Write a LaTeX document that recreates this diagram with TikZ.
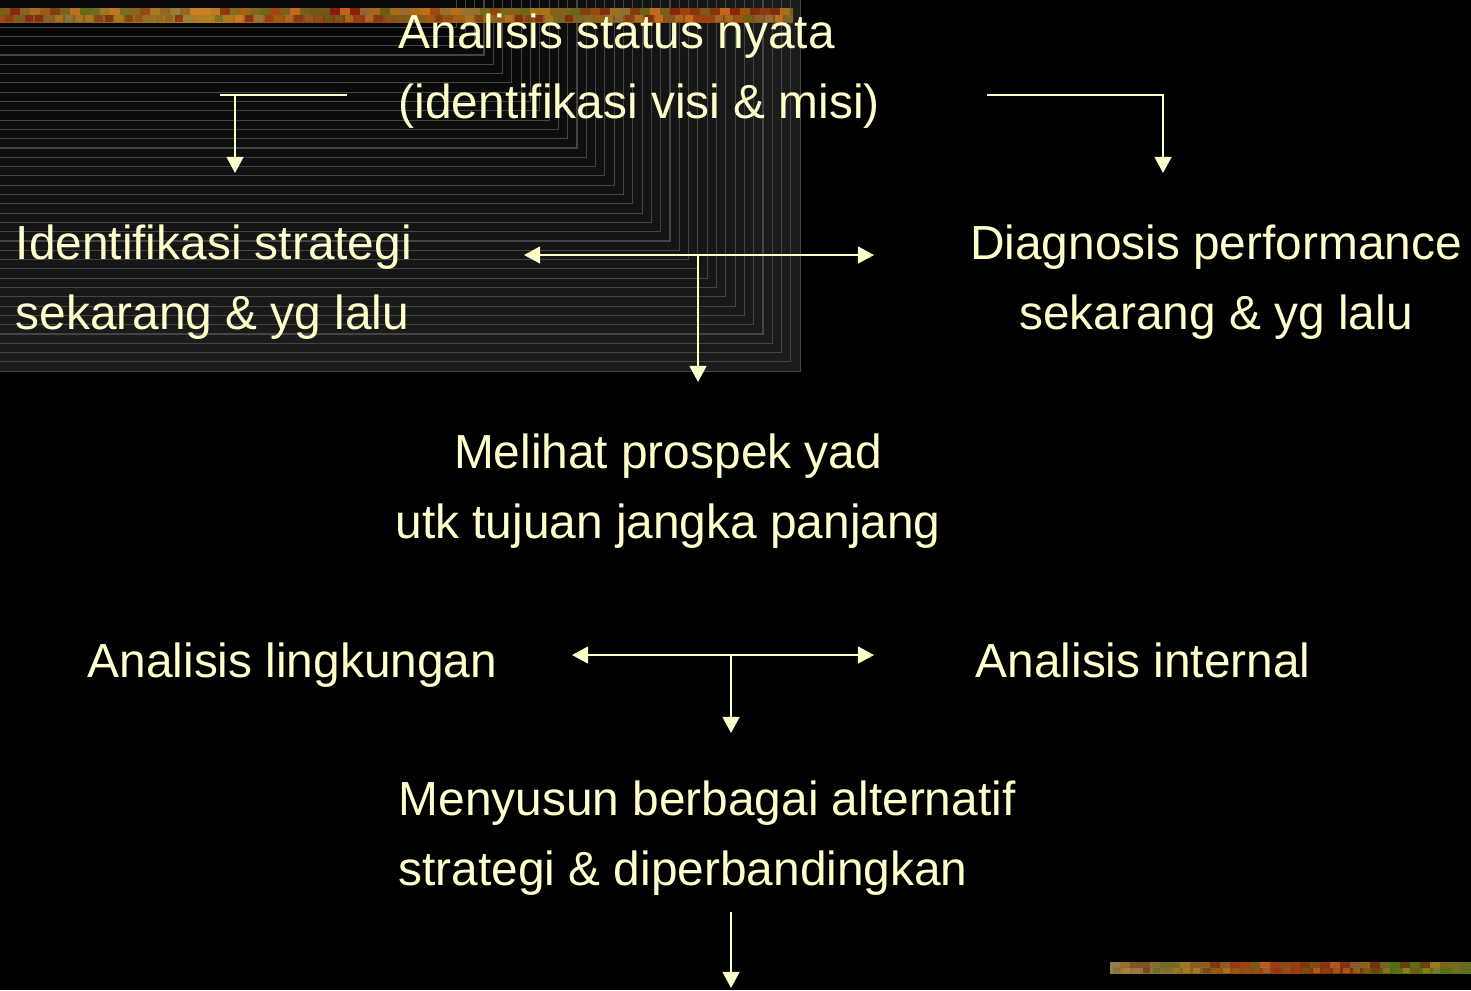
\documentclass[tikz,border=0pt]{standalone}
\usepackage{fontspec}
\setmainfont{Liberation Sans}
\usetikzlibrary{arrows.meta,positioning}

\definecolor{pale}{HTML}{FFFFCC}
\definecolor{stripe}{HTML}{444444}
% colours of the two patterned bars
\definecolor{ba}{HTML}{6A6A20}\definecolor{bb}{HTML}{7A3010}
\definecolor{bc}{HTML}{8A6A30}\definecolor{bd}{HTML}{A04010}
\definecolor{be}{HTML}{806020}\definecolor{bf}{HTML}{B08020}
\definecolor{bg}{HTML}{903010}\definecolor{bh}{HTML}{607020}
\definecolor{bi}{HTML}{C08020}\definecolor{bj}{HTML}{A06010}
\definecolor{bk}{HTML}{908050}\definecolor{bl}{HTML}{801010}
\definecolor{bm}{HTML}{E08020}\definecolor{bn}{HTML}{507010}
\pgfdeclarehorizontalshading{topbar}{100bp}{color(0bp)=(ba); color(8bp)=(bb);
  color(14bp)=(bc); color(22bp)=(bd); color(30bp)=(be); color(38bp)=(bf);
  color(46bp)=(bg); color(54bp)=(bj); color(62bp)=(be); color(70bp)=(bd);
  color(78bp)=(bh); color(86bp)=(bj); color(94bp)=(bi); color(100bp)=(bj)}
\pgfdeclarehorizontalshading{lowbar}{100bp}{color(0bp)=(bi); color(18bp)=(bj);
  color(25bp)=(bk); color(38bp)=(be); color(45bp)=(bd); color(58bp)=(bb);
  color(65bp)=(bn); color(78bp)=(bh); color(82bp)=(bl); color(94bp)=(bm);
  color(100bp)=(bg)}
\pgfmathdeclarerandomlist{barcols}{{ba}{bb}{bc}{bd}{be}{bf}{bg}{bh}{bi}{bj}{bk}{bl}{bm}{bn}}

\begin{document}
\begin{tikzpicture}[x=0.01cm,y=-0.01cm,
    txt/.style={text=pale,inner sep=0pt,font=\fontsize{13.6}{19.9}\selectfont},
    line/.style={draw=pale,line width=0.6pt},
    arr/.style={line,-{Triangle[length=4.6pt,width=4.8pt]}}]
  % background
  \fill[black] (0,0) rectangle (1471,990);
  \useasboundingbox (0,0) rectangle (1471,990);
  \foreach \k in {34,33,...,-3} {
    \pgfmathsetmacro\cx{484+9.3*\k}
    \pgfmathsetmacro\cy{55+9.3*\k}
    \pgfmathsetmacro\lvl{97-8*(\k+3)/37}
    \fill[black!\lvl] (0,0) rectangle (\cx,\cy);
    \draw[stripe,line width=0.3pt] (0,\cy) -- (\cx,\cy) -- (\cx,0);
  }
  % patterned bars
  \pgfmathsetseed{7}
  \shade[shading=topbar] (0,8) rectangle (793,22);
  \foreach \i in {0,...,78} {
    \pgfmathrandomitem{\c}{barcols}
    \fill[\c,opacity=0.6] (10*\i,8) rectangle ++(10,7);
    \pgfmathrandomitem{\c}{barcols}
    \fill[\c,opacity=0.6] (10*\i+5,15) rectangle ++(8,7);
  }
  \shade[shading=lowbar] (1110,962) rectangle (1471,973);
  \foreach \i in {0,...,35} {
    \pgfmathrandomitem{\c}{barcols}
    \fill[\c,opacity=0.5] (1110+10*\i,962) rectangle ++(10,5.5);
    \pgfmathrandomitem{\c}{barcols}
    \fill[\c,opacity=0.5] (1113+10*\i,967.5) rectangle ++(7,5.5);
  }

  % texts (base = last line)
  \node[txt,align=left,anchor=base west] (status) at (398,118)
    {Analisis status nyata\\(identifikasi visi \& misi)};
  \node[txt,align=left,anchor=base west] (strat) at (15,329)
    {Identifikasi strategi\\sekarang \& yg lalu};
  \node[txt,align=center,anchor=base] (diag) at (1216,329)
    {Diagnosis performance\\sekarang \& yg lalu};
  \node[txt,align=center,anchor=base] (prosp) at (668,538)
    {Melihat prospek yad\\utk tujuan jangka panjang};
  \node[txt,anchor=base west] (ling) at (87,677) {Analisis lingkungan};
  \node[txt,anchor=base west] (intern) at (975,677) {Analisis internal};
  \node[txt,align=left,anchor=base west] (alt) at (398,885)
    {Menyusun berbagai alternatif\\strategi \& diperbandingkan};

  % arrow ends
  \coordinate (lA) at (220,95);  \coordinate (lB) at (347,95);
  \coordinate (lJ) at (235,95);  \coordinate (lT) at (235,173);
  \coordinate (rA) at (987,95);  \coordinate (rJ) at (1163,95);
  \coordinate (rT) at (1163,173);
  \coordinate (uL) at (524,255); \coordinate (uR) at (874,255);
  \coordinate (uJ) at (698,255); \coordinate (uT) at (698,382);
  \coordinate (wL) at (572,655); \coordinate (wR) at (874,655);
  \coordinate (wJ) at (731,655); \coordinate (wT) at (731,733);
  \coordinate (eA) at (731,912); \coordinate (eT) at (731,988);

  % arrows
  \draw[line] (lA) -- (lB);
  \draw[arr] (lJ) -- (lT);
  \draw[arr] (rA) -- (rJ) -- (rT);
  \draw[arr] (uJ) -- (uL);
  \draw[arr] (uJ) -- (uR);
  \draw[arr] (uJ) -- (uT);
  \draw[arr] (wJ) -- (wL);
  \draw[arr] (wJ) -- (wR);
  \draw[arr] (wJ) -- (wT);
  \draw[arr] (eA) -- (eT);
\end{tikzpicture}
\end{document}
